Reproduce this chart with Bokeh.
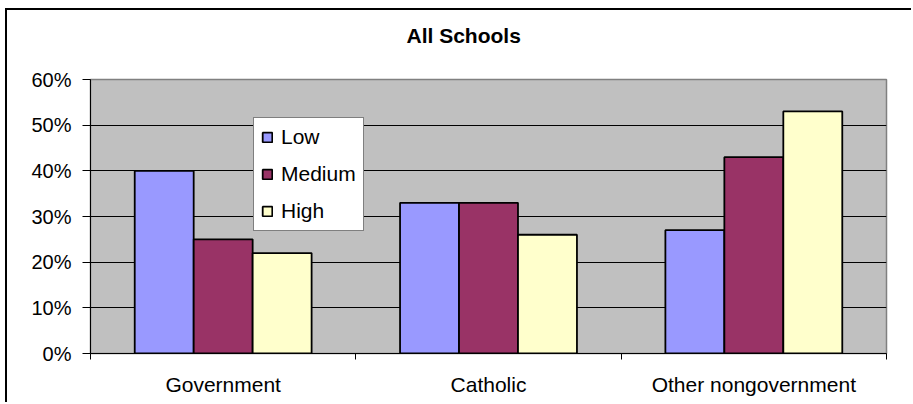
import numpy as np
from bokeh.plotting import figure
from bokeh.models import (Range1d, FixedTicker, NumeralTickFormatter, Legend,
                          LegendItem, Title)
from bokeh.embed import file_html
from bokeh.resources import INLINE

title = "All Schools"
categories = ["Government", "Catholic", "Other nongovernment"]
series = ["Low", "Medium", "High"]
low = [0.40, 0.33, 0.27]
medium = [0.25, 0.33, 0.43]
high = [0.22, 0.26, 0.53]
colors = ["#9999FF", "#993366", "#FFFFCC"]
y_ticks = [0.0, 0.1, 0.2, 0.3, 0.4, 0.5, 0.6]

FONT = "Liberation Sans"

p = figure(width=906, height=394, output_backend="svg", toolbar_location=None,
           x_range=Range1d(0, len(categories)), y_range=Range1d(0, 0.6),
           min_border_left=83, min_border_right=27, min_border_top=69,
           min_border_bottom=51,
           styles={"margin-left": "5px", "margin-top": "8px",
                   "border-left": "2px solid #000000",
                   "border-top": "2px solid #000000"})
p.background_fill_color = "#C0C0C0"
p.border_fill_color = "white"
p.outline_line_color = "#808080"
p.outline_line_width = 1.5

centers = np.arange(len(categories)) + 0.5
bw = 1 / 4.5
values = [low, medium, high]
renderers = []
for i, (name, vals, col) in enumerate(zip(series, values, colors)):
    r = p.vbar(x=centers + (i - 1) * bw, top=vals, width=bw, bottom=0,
               fill_color=col, line_color="black", line_width=1.8)
    renderers.append(r)

# x axis
xa = p.xaxis[0]
xa.ticker = FixedTicker(ticks=list(centers), minor_ticks=list(range(len(categories) + 1)))
xa.major_label_overrides = {float(c): lab for c, lab in zip(centers, categories)}
xa.major_tick_line_color = None
xa.major_tick_in = 0
xa.major_tick_out = 0
xa.minor_tick_in = 0
xa.minor_tick_out = 6
xa.minor_tick_line_color = "black"
xa.axis_line_color = "black"
xa.major_label_standoff = 13
xa.major_label_text_font = FONT
xa.major_label_text_font_size = "21px"
xa.major_label_text_color = "black"

# y axis
ya = p.yaxis[0]
ya.ticker = FixedTicker(ticks=y_ticks)
ya.formatter = NumeralTickFormatter(format="0%")
ya.major_tick_in = 0
ya.major_tick_out = 8
ya.minor_tick_line_color = None
ya.axis_line_color = "black"
ya.major_tick_line_color = "black"
ya.major_label_standoff = 11
ya.major_label_text_font = FONT
ya.major_label_text_font_size = "20px"
ya.major_label_text_color = "black"

p.xgrid.visible = False
p.ygrid.ticker = FixedTicker(ticks=y_ticks)
p.ygrid.grid_line_color = "black"
p.ygrid.grid_line_width = 1

legend = Legend(items=[LegendItem(label=s, renderers=[r]) for s, r in zip(series, renderers)],
                location=(163, 122), padding=7, spacing=13, margin=0,
                glyph_width=12, glyph_height=12, label_standoff=8,
                border_line_color="black", border_line_width=1,
                background_fill_color="white", background_fill_alpha=1.0,
                label_text_font=FONT, label_text_font_size="21px",
                label_text_color="black")
p.add_layout(legend)

# blank spacer between the plot area and the chart title
p.add_layout(Title(text=" ", standoff=0, text_font=FONT, text_font_size="20px"), "above")
p.add_layout(Title(text=title, align="left", offset=316, standoff=18,
                   text_font=FONT, text_font_size="21px", text_font_style="bold",
                   text_color="black"), "above")

open("out.html", "w").write(file_html(p, INLINE))
